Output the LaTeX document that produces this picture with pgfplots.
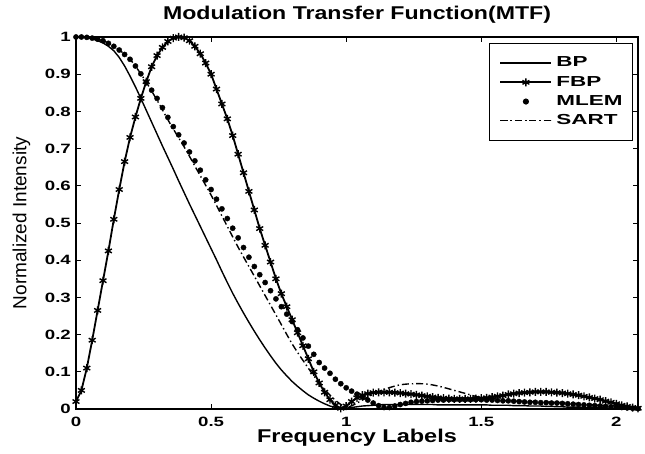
\documentclass[border=0pt]{standalone}
\usepackage{fontspec}
\setmainfont{Liberation Sans}
\usepackage{graphicx}
\usepackage{pgfplots}
\pgfplotsset{compat=1.18}
\usepackage{pgfplotstable}
\newcommand\tklab[1]{\scalebox{1.38}[1]{#1}}
\newcommand\legtxt[1]{\scalebox{1.55}[1]{#1}}

\pgfplotstableread{
x bp fbp mlem
0.00 1.000 0.020 1.000
0.02 1.000 0.050 1.000
0.04 0.998 0.110 0.999
0.06 0.995 0.185 0.997
0.08 0.990 0.265 0.994
0.10 0.984 0.345 0.990
0.12 0.975 0.425 0.983
0.14 0.963 0.510 0.975
0.16 0.945 0.590 0.965
0.18 0.922 0.665 0.953
0.20 0.895 0.730 0.940
0.22 0.866 0.785 0.922
0.24 0.835 0.835 0.901
0.26 0.803 0.880 0.879
0.28 0.771 0.920 0.857
0.30 0.739 0.950 0.835
0.32 0.707 0.972 0.810
0.34 0.676 0.988 0.784
0.36 0.645 0.997 0.759
0.38 0.613 1.000 0.737
0.40 0.582 0.998 0.715
0.42 0.551 0.990 0.691
0.44 0.521 0.975 0.667
0.46 0.491 0.955 0.642
0.48 0.461 0.930 0.616
0.50 0.431 0.900 0.590
0.52 0.401 0.860 0.564
0.54 0.370 0.820 0.538
0.56 0.340 0.780 0.512
0.58 0.311 0.735 0.486
0.60 0.284 0.685 0.460
0.62 0.258 0.635 0.434
0.64 0.233 0.585 0.408
0.66 0.209 0.535 0.383
0.68 0.186 0.485 0.361
0.70 0.164 0.440 0.340
0.72 0.143 0.395 0.318
0.74 0.123 0.350 0.296
0.76 0.105 0.310 0.275
0.78 0.089 0.275 0.255
0.80 0.074 0.240 0.235
0.82 0.061 0.205 0.213
0.84 0.049 0.170 0.191
0.86 0.038 0.135 0.169
0.88 0.029 0.100 0.147
0.90 0.021 0.070 0.125
0.92 0.014 0.045 0.110
0.94 0.008 0.025 0.096
0.96 0.004 0.010 0.080
0.98 0.001 0.002 0.068
1.00 0.002 0.008 0.057
1.02 0.004 0.020 0.048
1.04 0.006 0.030 0.040
1.06 0.008 0.037 0.032
1.08 0.009 0.041 0.024
1.10 0.010 0.044 0.016
1.12 0.011 0.045 0.009
1.14 0.012 0.045 0.004
1.16 0.012 0.045 0.004
1.18 0.012 0.044 0.008
1.20 0.012 0.043 0.012
1.22 0.012 0.041 0.015
1.24 0.012 0.040 0.018
1.26 0.012 0.038 0.020
1.28 0.012 0.036 0.021
1.30 0.012 0.034 0.022
1.32 0.012 0.032 0.023
1.34 0.011 0.030 0.024
1.36 0.011 0.029 0.024
1.38 0.011 0.028 0.025
1.40 0.011 0.027 0.025
1.42 0.011 0.027 0.025
1.44 0.011 0.027 0.025
1.46 0.011 0.027 0.025
1.48 0.011 0.028 0.025
1.50 0.011 0.029 0.025
1.52 0.011 0.030 0.024
1.54 0.010 0.032 0.024
1.56 0.010 0.034 0.023
1.58 0.010 0.036 0.022
1.60 0.010 0.039 0.022
1.62 0.009 0.041 0.021
1.64 0.009 0.043 0.020
1.66 0.009 0.044 0.019
1.68 0.008 0.045 0.018
1.70 0.008 0.046 0.018
1.72 0.008 0.046 0.017
1.74 0.007 0.046 0.017
1.76 0.007 0.045 0.016
1.78 0.006 0.044 0.016
1.80 0.006 0.043 0.015
1.82 0.005 0.041 0.014
1.84 0.005 0.039 0.013
1.86 0.005 0.037 0.012
1.88 0.004 0.034 0.011
1.90 0.004 0.031 0.010
1.92 0.003 0.028 0.009
1.94 0.003 0.025 0.008
1.96 0.003 0.021 0.007
1.98 0.002 0.018 0.006
2.00 0.002 0.014 0.005
2.02 0.001 0.010 0.004
2.04 0.001 0.007 0.003
2.06 0.001 0.004 0.002
2.08 0.000 0.002 0.001
}\mtf

\pgfplotstableread{
x sart
0.00 1.000
0.05 0.998
0.10 0.990
0.15 0.970
0.20 0.940
0.25 0.890
0.30 0.830
0.35 0.765
0.40 0.705
0.45 0.640
0.50 0.575
0.55 0.505
0.60 0.435
0.65 0.370
0.70 0.305
0.75 0.240
0.80 0.175
0.85 0.120
0.90 0.070
0.95 0.030
1.00 0.005
1.05 0.020
1.10 0.040
1.15 0.055
1.20 0.065
1.25 0.068
1.30 0.067
1.35 0.060
1.40 0.050
1.45 0.040
1.50 0.030
1.55 0.025
1.60 0.022
1.70 0.020
1.80 0.017
1.90 0.012
2.00 0.006
2.08 0.000
}\sarttab

\begin{document}
\begin{tikzpicture}
\useasboundingbox (-76pt,-45pt) rectangle (569pt,409pt);
\begin{axis}[
  at={(0pt,0pt)}, anchor=south west,
  width=562pt, height=372pt, scale only axis,
  xmin=0, xmax=2.08, ymin=0, ymax=1,
  clip=false,
  xtick={0,0.5,1,1.5,2},
  xticklabels={\tklab{0},\tklab{0.5},\tklab{1},\tklab{1.5},\tklab{2}},
  ytick={0,0.1,0.2,0.3,0.4,0.5,0.6,0.7,0.8,0.9,1},
  yticklabels={\tklab{0},\tklab{0.1},\tklab{0.2},\tklab{0.3},\tklab{0.4},\tklab{0.5},\tklab{0.6},\tklab{0.7},\tklab{0.8},\tklab{0.9},\tklab{1}},
  tick align=inside,
  major tick length=5pt,
  tick style={black, line width=0.8pt},
  axis line style={black, line width=1.1pt},
  tick label style={font=\bfseries\fontsize{13.5}{14}\selectfont, inner sep=0pt},
  xticklabel style={anchor=base, yshift=-18pt},
  yticklabel style={anchor=east, xshift=-5pt},
  title={\scalebox{1.25}[1]{Modulation Transfer Function(MTF)}},
  title style={font=\bfseries\fontsize{18.5}{18}\selectfont, at={(axis description cs:0.5,1.03)}, anchor=base, inner sep=0pt},
  xlabel={\scalebox{1.27}[1]{Frequency Labels}},
  xlabel style={font=\bfseries\fontsize{18.5}{18}\selectfont, at={(axis description cs:0.5,-0.0914)}, anchor=base, inner sep=0pt},
  ylabel={Normalized Intensity},
  ylabel style={font=\fontsize{19}{19}\selectfont, at={(axis description cs:-0.097,0.5)}, anchor=center, inner sep=0pt},
  legend style={at={(axis description cs:0.991,0.984)}, anchor=north east,
    draw=black, line width=0.9pt, font=\bfseries\fontsize{14.5}{14.5}\selectfont,
    inner xsep=10pt, inner ysep=13pt, row sep=5.7pt, column sep=4pt,
    nodes={inner sep=0pt, text height=10.5pt, text depth=3pt}},
  legend cell align=left,
  legend image code/.code={\draw[mark repeat=2,mark phase=2,#1] plot coordinates {(0pt,0pt) (25.5pt,0pt) (51pt,0pt)};},
]
\addplot[black, line width=1.4pt, no markers] table[x=x, y=bp] {\mtf};
\addlegendentry{\legtxt{BP}}
\addplot[black, line width=1.8pt, mark=asterisk, mark size=4pt, mark options={solid, line width=1.4pt}] table[x=x, y=fbp] {\mtf};
\addlegendentry{\legtxt{FBP}}
\addplot[black, only marks, mark=*, mark size=2.6pt] table[x=x, y=mlem] {\mtf};
\addlegendentry{\legtxt{MLEM}}
\addplot[black, line width=1.4pt, smooth, dash pattern=on 7pt off 3pt on 1.4pt off 3pt] table[x=x, y=sart] {\sarttab};
\addlegendentry{\legtxt{SART}}
\end{axis}
\end{tikzpicture}
\end{document}
